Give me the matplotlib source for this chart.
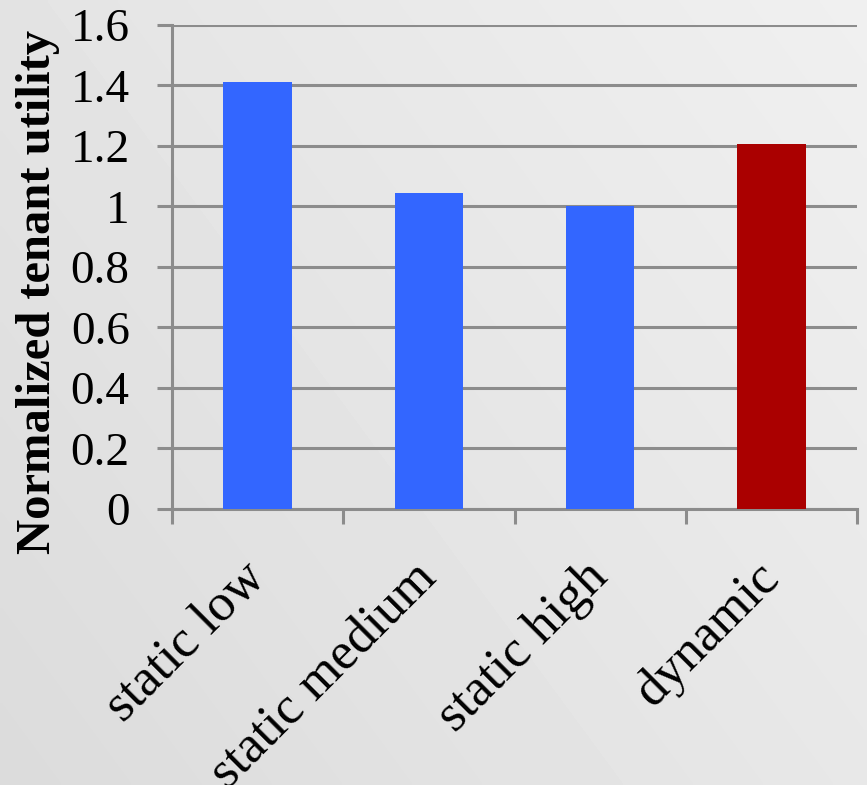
import matplotlib
matplotlib.use("Agg")
import matplotlib.pyplot as plt
import numpy as np

categories = ["static low", "static medium", "static high", "dynamic"]
values = [1.41, 1.045, 1.0, 1.205]
bar_colors = ["#3366FF", "#3366FF", "#3366FF", "#AA0000"]
y_ticks = [0, 0.2, 0.4, 0.6, 0.8, 1.0, 1.2, 1.4, 1.6]
y_tick_labels = ["0", "0.2", "0.4", "0.6", "0.8", "1", "1.2", "1.4", "1.6"]

plt.rcParams["font.family"] = ["Liberation Serif", "DejaVu Serif"]

bg = "#e6e6e6"
grid_c = "#8c8c8c"

fig = plt.figure(figsize=(8.67, 7.85), dpi=100, facecolor=bg)

# soft light-gray backdrop, slightly lighter toward the upper right
bg_ax = fig.add_axes([0, 0, 1, 1], zorder=-10)
gx, gy = np.meshgrid(np.linspace(0, 1, 200), np.linspace(0, 1, 200))
shade = 0.86 + 0.08 * (0.6 * gx + 0.4 * (1 - gy))
bg_ax.imshow(shade, cmap="gray", vmin=0, vmax=1, aspect="auto",
             extent=[0, 1, 0, 1], interpolation="bilinear")
bg_ax.axis("off")

ax = fig.add_axes([0.1984, 0.3516, 0.7901, 0.6166])
ax.set_facecolor("none")

x = np.arange(len(categories))
ax.bar(x, values, width=0.4, color=bar_colors, zorder=3)

ax.set_xlim(-0.5, len(categories) - 0.5)
ax.set_ylim(0, 1.6)
ax.set_yticks(y_ticks)
ax.set_yticklabels(y_tick_labels, fontsize=34)
ax.yaxis.grid(True, color=grid_c, linewidth=2.2, zorder=1)
ax.set_axisbelow(True)

for s in ["top", "right"]:
    ax.spines[s].set_visible(False)
for s in ["left", "bottom"]:
    ax.spines[s].set_color(grid_c)
    ax.spines[s].set_linewidth(2.2)

ax.tick_params(axis="y", length=10.5, width=2.2, color=grid_c, pad=20)
# category boundary ticks on the x axis
ax.set_xticks(np.arange(-0.5, len(categories)), minor=False)
ax.set_xticklabels([])
ax.tick_params(axis="x", length=10.5, width=2.2, color=grid_c)
ax.set_xticks(x, minor=True)
ax.set_xticklabels(categories, minor=True, rotation=45, ha="right",
                   va="center", rotation_mode="anchor", fontsize=38)
ax.tick_params(axis="x", which="minor", length=0, pad=44)

ax.set_ylabel("Normalized tenant utility", fontsize=35, fontweight="bold")
ax.yaxis.set_label_coords(-0.163, 0.448)

fig.savefig("out.png", dpi=100, facecolor=bg)
